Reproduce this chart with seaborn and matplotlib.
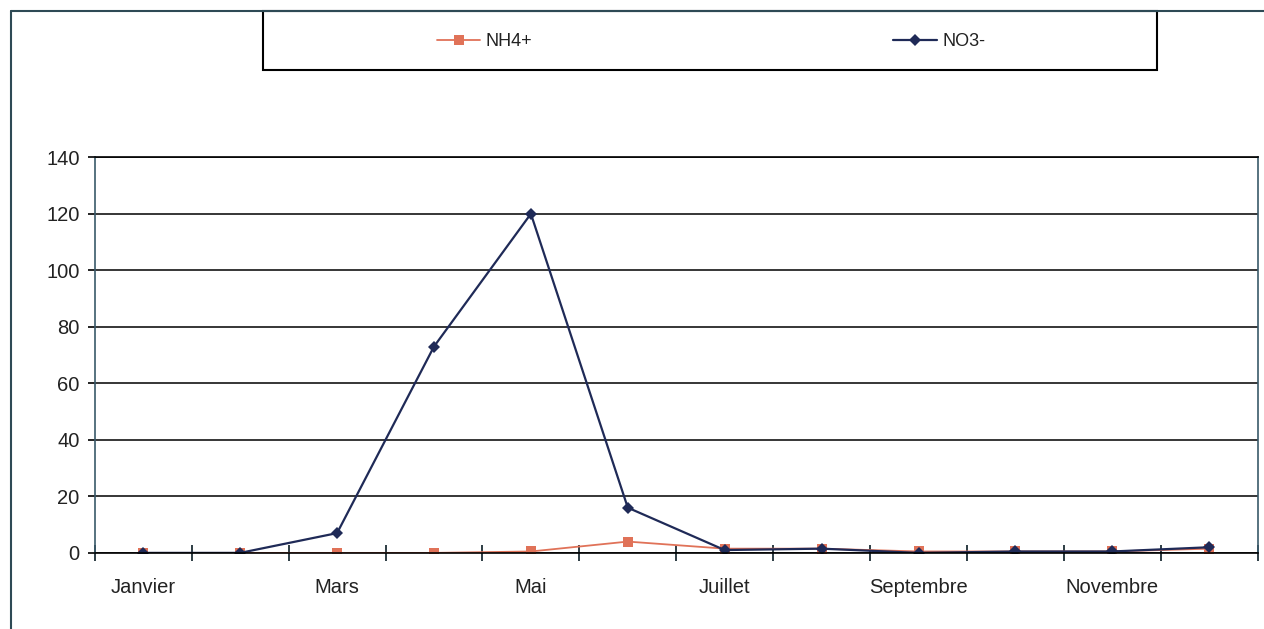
"""Monthly NH4+ and NO3- concentrations, line chart."""

import numpy as np
import pandas as pd
import seaborn as sns
import matplotlib.pyplot as plt
from matplotlib.lines import Line2D
from matplotlib.patches import Rectangle

# -----------------------------------------------------------------------------

months = ['Janvier', 'Février', 'Mars', 'Avril', 'Mai', 'Juin',
          'Juillet', 'Août', 'Septembre', 'Octobre', 'Novembre', 'Décembre']
nh4 = [0, 0, 0, 0, 0.5, 4, 1.5, 1.5, 0.5, 0.5, 0.5, 1.5]
no3 = [0, 0, 7, 73, 120, 16, 1, 1.5, 0, 0.5, 0.5, 2]

nh4_color = '#E07258'
no3_color = '#1F2A57'

# -----------------------------------------------------------------------------

sns.set_style('white')
plt.rcParams['font.family'] = ['Liberation Sans', 'DejaVu Sans']

df = pd.DataFrame({'mois': np.arange(len(months)), 'NH4+': nh4, 'NO3-': no3})

fig = plt.figure(figsize=(12.64, 6.29), dpi=100)
ax = fig.add_axes([0.075, 0.121, 0.92, 0.629])

sns.lineplot(data=df, x='mois', y='NH4+', ax=ax, color=nh4_color, lw=1.3,
             marker='s', markersize=7, markeredgewidth=0, label='NH4+')
sns.lineplot(data=df, x='mois', y='NO3-', ax=ax, color=no3_color, lw=1.6,
             marker='D', markersize=6, markeredgewidth=0, label='NO3-')

ax.set_xlim(-0.5, len(months) - 0.5)
ax.set_ylim(0, 140)
ax.set_yticks(range(0, 141, 20))
ax.yaxis.grid(True, color='black', lw=1.1)
ax.set_axisbelow(True)
ax.set_xlabel('')
ax.set_ylabel('')

# category-style axis: tick marks between months, labels on every other month
ax.set_xticks(np.arange(-0.5, len(months), 1.0))
ax.set_xticklabels([])
ax.set_xticks(np.arange(0, len(months), 2), minor=True)
ax.set_xticklabels(months[::2], minor=True)
ax.tick_params(axis='x', which='major', bottom=True, direction='inout',
               length=12, width=1.3, color='#1E2E36')
ax.tick_params(axis='x', which='minor', bottom=True, length=0, pad=18,
               labelsize=14.5, labelcolor='#222222')
ax.tick_params(axis='y', left=True, direction='out', length=5, width=1.2,
               color='black', labelsize=14.5, labelcolor='#222222', pad=6)

for side in ['left', 'right', 'top', 'bottom']:
    ax.spines[side].set_visible(True)
    ax.spines[side].set_color('black')
    ax.spines[side].set_linewidth(1.2)
ax.spines['left'].set_color('#3A5A6A')
ax.spines['right'].set_color('#3A5A6A')

ax.get_legend().remove()

# legend box at top
fig.patches.append(Rectangle((263 / 1264, 1 - 70 / 629), 894 / 1264, 59 / 629,
                             transform=fig.transFigure, fill=False,
                             edgecolor='black', lw=1.5))
handles = [
    Line2D([], [], color=nh4_color, marker='s', markersize=7, markeredgewidth=0, lw=1.3),
    Line2D([], [], color=no3_color, marker='D', markersize=6, markeredgewidth=0, lw=1.6),
]
fig.legend(handles, ['NH4+', 'NO3-'], loc='center', ncol=2,
           bbox_to_anchor=(711 / 1264, 1 - 42 / 629), frameon=False,
           fontsize=13, columnspacing=20, handlelength=2.4, handletextpad=0.3,
           labelcolor='#222222')

# outer frame lines (top and left)
fig.add_artist(Line2D([11 / 1264, 1], [1 - 11 / 629, 1 - 11 / 629],
                      transform=fig.transFigure, color='#2E4A55', lw=1.5))
fig.add_artist(Line2D([11 / 1264, 11 / 1264], [0, 1 - 11 / 629],
                      transform=fig.transFigure, color='#2E4A55', lw=1.5))

fig.savefig('out.png', dpi=100)
